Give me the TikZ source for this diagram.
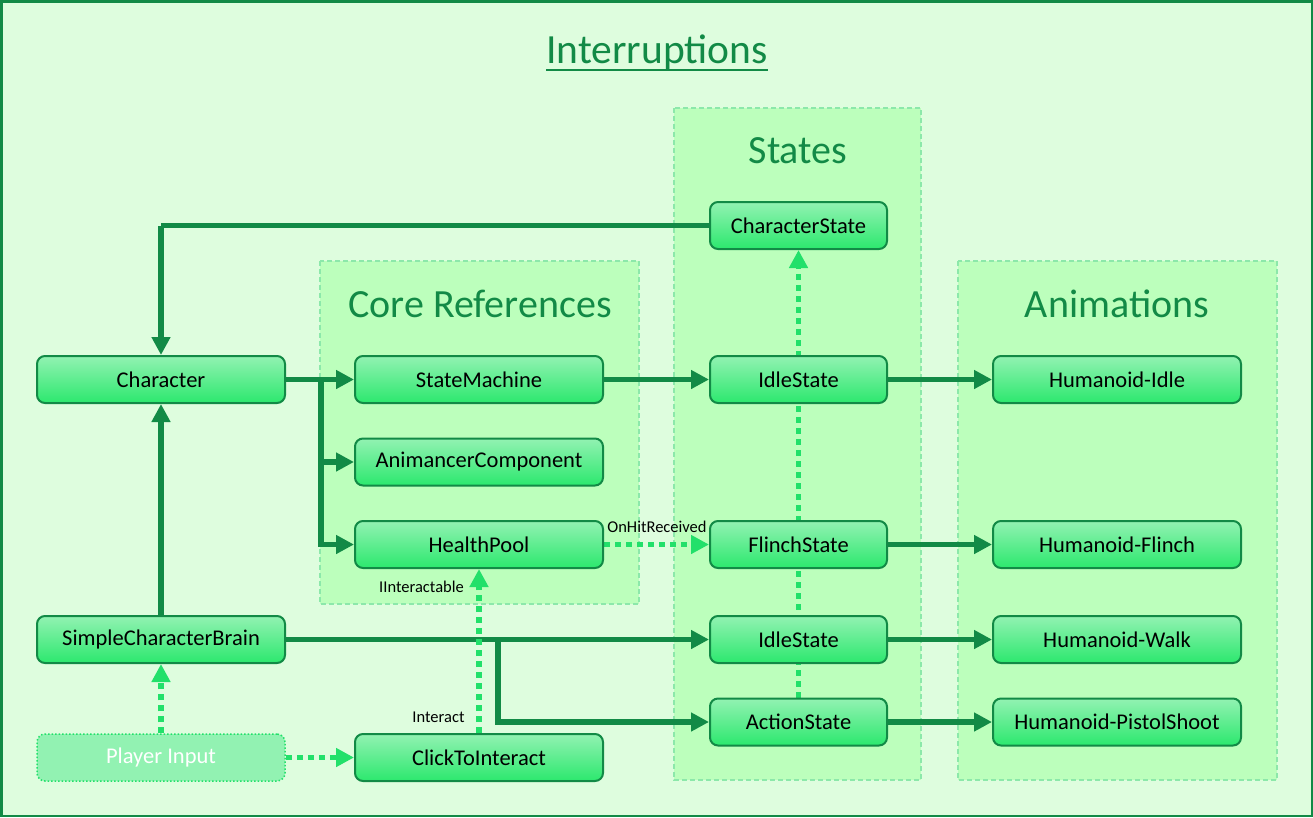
\documentclass[tikz,border=0pt]{standalone}
\usepackage{fontspec}
\setmainfont{Carlito}
\usetikzlibrary{arrows.meta,positioning}
\pgfdeclarelayer{back}
\pgfdeclarelayer{mid}
\pgfsetlayers{back,mid,main}
\definecolor{dgreen}{RGB}{18,138,70}
\definecolor{lgreen}{RGB}{34,224,106}
\definecolor{outerfill}{RGB}{222,253,222}
\definecolor{groupfill}{RGB}{188,255,188}
\definecolor{groupline}{RGB}{140,232,170}
\definecolor{ntop}{RGB}{146,242,178}
\definecolor{nbot}{RGB}{44,232,110}
\tikzset{
  box/.style={draw=dgreen, line width=2pt, rounded corners=8pt, top color=ntop, bottom color=nbot,
    minimum height=47pt, inner sep=0pt, font=\fontsize{22.5}{26}\selectfont, text=black},
  wbox/.style={box, minimum width=248pt},
  sbox/.style={box, minimum width=177pt},
  inbox/.style={draw=lgreen, line width=1.5pt, dotted, rounded corners=8pt, fill=ntop,
    minimum height=47pt, minimum width=248pt, inner sep=0pt, font=\fontsize{22.5}{26}\selectfont, text=white},
  group/.style={draw=groupline, line width=1.2pt, dashed, dash pattern=on 5pt off 3pt, fill=groupfill},
  gtitle/.style={font=\fontsize{40}{46}\selectfont, text=dgreen},
  solidarr/.style={draw=dgreen, line width=5.5pt, -{Triangle[length=18pt,width=18pt]}},
  solidln/.style={draw=dgreen, line width=5.5pt},
  dotarr/.style={draw=lgreen, line width=5.5pt, dash pattern=on 6pt off 5pt, -{Triangle[length=18pt,width=18pt]}},
  lbl/.style={font=\fontsize{16.5}{19}\selectfont, text=black, inner sep=0pt}
}
\begin{document}
\begin{tikzpicture}[x=1pt,y=-1pt]
\useasboundingbox (0,0) rectangle (1313,817);
\begin{pgfonlayer}{back}
\draw[draw=dgreen, line width=2.5pt, fill=outerfill] (1.25,1.25) rectangle (1311.75,815.75);
\draw[group] (674,108) rectangle (921,780);
\draw[group] (320,261) rectangle (639,604);
\draw[group] (958,261) rectangle (1277,780);
\end{pgfonlayer}
\node[gtitle, font=\fontsize{41.5}{46}\selectfont, inner sep=0pt, anchor=base] (title) at (657,63) {Interruptions};
\draw[dgreen, line width=2.5pt] ([yshift=-7pt]title.base west) -- ([yshift=-7pt]title.base east);
\node[gtitle] (tcore) at (480,304) {Core References};
\node[gtitle] (tstates) at (798,151) {States};
\node[gtitle] (tanim) at (1117,304) {Animations};

\node[wbox] (char) at (161,379.5) {Character};
\node[wbox] (sm) at (479,379.5) {StateMachine};
\node[wbox] (ac) at (479,462) {AnimancerComponent};
\node[wbox] (hp) at (479,544.5) {HealthPool};
\node[wbox] (scb) at (161,639.5) {SimpleCharacterBrain};
\node[inbox] (pi) at (161,757.5) {Player Input};
\node[wbox] (cti) at (479,757.5) {ClickToInteract};

\node[sbox] (cs) at (798.5,225.5) {CharacterState};
\node[sbox] (is1) at (798.5,379.5) {IdleState};
\node[sbox] (fs) at (798.5,544.5) {FlinchState};
\node[sbox] (is2) at (798.5,639.5) {IdleState};
\node[sbox] (as) at (798.5,722) {ActionState};

\node[wbox] (hi) at (1117,379.5) {Humanoid-Idle};
\node[wbox] (hf) at (1117,544.5) {Humanoid-Flinch};
\node[wbox] (hw) at (1117,639.5) {Humanoid-Walk};
\node[wbox] (hps) at (1117,722) {Humanoid-PistolShoot};

\coordinate (b1) at (321,379.5);
\coordinate (b2) at (498,639.5);
\coordinate (c1) at (161,225.5);

\begin{pgfonlayer}{mid}
\draw[solidln] (cs.west) -- (c1);
\draw[solidarr] (c1) -- (char.north);
\draw[solidarr] (char.east) -- (sm.west);
\draw[solidarr] (b1) |- (ac.west);
\draw[solidarr] (b1) |- (hp.west);
\draw[solidarr] (scb.north) -- (char.south);
\draw[solidarr] (scb.east) -- (is2.west);
\draw[solidarr] (b2) |- (as.west);
\draw[solidarr] (sm.east) -- (is1.west);
\draw[solidarr] (is1.east) -- (hi.west);
\draw[solidarr] (fs.east) -- (hf.west);
\draw[solidarr] (is2.east) -- (hw.west);
\draw[solidarr] (as.east) -- (hps.west);
\draw[dotarr] (hp.east) -- (fs.west);
\draw[dotarr] (cti.north) -- (hp.south);
\draw[dotarr] (pi.east) -- (cti.west);
\draw[dotarr] (pi.north) -- (scb.south);
\draw[dotarr] (as.north) -- (cs.south);
\end{pgfonlayer}

\node[lbl] (l1) at (657,527) {OnHitReceived};
\node[lbl] (l2) at (421.5,587) {IInteractable};
\node[lbl] (l3) at (438.5,717) {Interact};
\end{tikzpicture}
\end{document}
